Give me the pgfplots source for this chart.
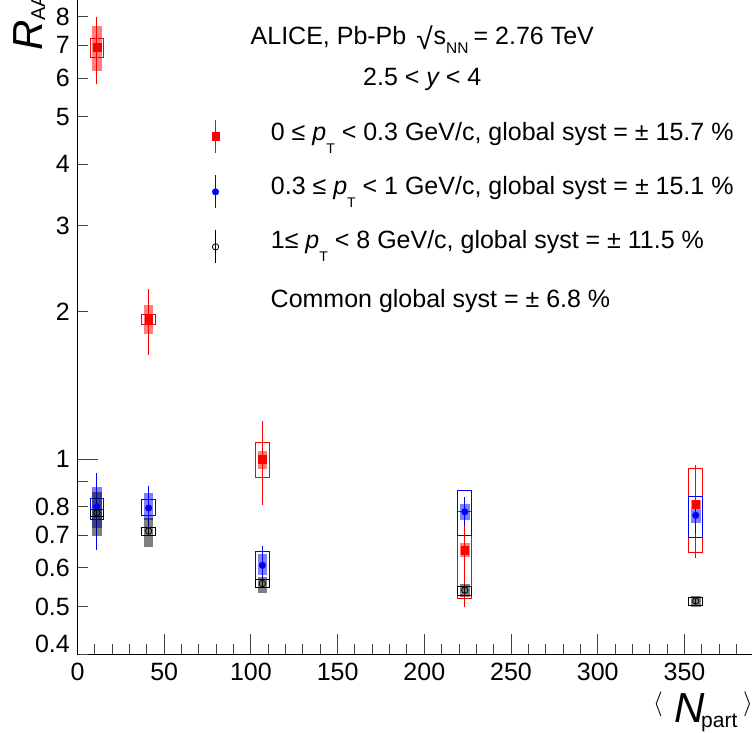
\documentclass[border=0pt]{standalone}
\usepackage{fontspec}
\setmainfont{Liberation Sans}
\usepackage{pgfplots}
\usepackage{pgfplotstable}
\pgfplotsset{compat=1.18}

\newcommand{\fs}[1]{\fontsize{#1}{#1}\selectfont}
\newcommand{\sub}[1]{\raisebox{-12.3pt}{\fs{14}#1}}
\newcommand{\sqrtsnn}{\kern3pt\raisebox{-5pt}{\fs{30}√}\kern1pt s\raisebox{-8.3pt}{\fs{15.5}NN}\kern5pt}

% open box (uncorrelated syst) and hatched box (correlated syst)
\newcommand{\ubox}[4]{%
  \pgfmathsetmacro{\xa}{#2-3.9}\pgfmathsetmacro{\xb}{#2+3.9}%
  \addplot[#1, line width=1pt, forget plot] coordinates {(\xa,#3) (\xb,#3) (\xb,#4) (\xa,#4)} -- cycle;}
\newcommand{\cbox}[4]{%
  \pgfmathsetmacro{\xa}{#2-2.8}\pgfmathsetmacro{\xb}{#2+2.8}%
  \addplot[draw=none, fill=#1, fill opacity=0.5, forget plot] coordinates {(\xa,#3) (\xb,#3) (\xb,#4) (\xa,#4)} -- cycle;}

% x = <Npart>, y = R_AA, slo/shi = statistical error bar ends
\pgfplotstableread{
x     y     slo   shi
11.2  6.93  5.85  8.00
41.0  1.93  1.63  2.23
106.6 1.00  0.805 1.197
223.3 0.652 0.499 0.780
356.5 0.808 0.627 0.972
}\redpts
\pgfplotstableread{
x     y     slo   shi
11.2  0.800 0.652 0.935
41.0  0.795 0.708 0.882
106.6 0.607 0.552 0.664
223.3 0.781 0.730 0.835
356.5 0.768 0.705 0.812
}\bluepts
\pgfplotstableread{
x     y     slo   shi
11.2  0.777 0.765 0.789
41.0  0.713 0.703 0.723
106.6 0.557 0.549 0.565
223.3 0.540 0.533 0.547
356.5 0.513 0.507 0.519
}\blackpts

\pgfplotsset{
  stat/.style={only marks, error bars/y dir=both, error bars/y explicit,
    error bars/error mark=none, error bars/error bar style={line width=1pt, #1}},
}

\begin{document}
\begin{tikzpicture}
\useasboundingbox (0,0) rectangle (752pt,733pt);
\begin{axis}[
  at={(77.5pt,79pt)}, anchor=south west,
  scale only axis, width=685pt, height=662.1pt,
  xmin=0, xmax=395, ymode=log, ymin=0.4, ymax=9,
  axis line style={line width=1pt},
  tick style={black!75, line width=1pt},
  major tick length=20pt, minor tick length=10pt,
  xtick pos=left, ytick pos=left,
  xtick={0,50,...,350},
  minor xtick={10,20,30,40,60,70,80,90,110,120,130,140,160,170,180,190,210,220,230,240,260,270,280,290,310,320,330,340,360,370,380,390},
  ytick={1}, yticklabels={1},
  minor y tick num=0,
  extra y ticks={0.4,0.5,0.6,0.7,0.8,0.9,2,3,4,5,6,7,8},
  extra y tick labels={\raisebox{10pt}[\height][\depth]{0.4},0.5,0.6,0.7,0.8,,2,3,4,5,6,7,8},
  extra y tick style={major tick length=10pt},
  /pgf/number format/assume math mode=true,
  ticklabel style={font=\fs{25}, inner sep=0pt},
  xticklabel style={yshift=-8.7pt},
  yticklabel style={xshift=-7.5pt},
]
% 0 <= pT < 0.3 GeV/c
\cbox{red}{11.2}{6.20}{7.66}
\cbox{red}{41.0}{1.798}{2.063}
\cbox{red}{106.6}{0.955}{1.04}
\cbox{red}{223.3}{0.632}{0.673}
\cbox{red}{356.5}{0.789}{0.827}
\ubox{red}{11.2}{6.61}{7.22}
\ubox{red}{41.0}{1.884}{1.978}
\ubox{red}{106.6}{0.919}{1.082}
\ubox{red}{223.3}{0.519}{0.783}
\ubox{red}{356.5}{0.645}{0.957}
\addplot[red, stat=red, mark=square*, mark size=3.8pt]
  table[x=x, y=y, y error plus expr=\thisrow{shi}-\thisrow{y}, y error minus expr=\thisrow{y}-\thisrow{slo}] {\redpts};
% 0.3 <= pT < 1 GeV/c
\cbox{blue}{11.2}{0.722}{0.878}
\cbox{blue}{41.0}{0.75}{0.851}
\cbox{blue}{106.6}{0.58}{0.64}
\cbox{blue}{223.3}{0.753}{0.809}
\cbox{blue}{356.5}{0.741}{0.789}
\ubox{blue}{11.2}{0.754}{0.832}
\ubox{blue}{41.0}{0.766}{0.826}
\ubox{blue}{106.6}{0.568}{0.647}
\ubox{blue}{223.3}{0.700}{0.864}
\ubox{blue}{356.5}{0.692}{0.840}
\addplot[blue, stat=blue, mark=*, mark size=3.3pt]
  table[x=x, y=y, y error plus expr=\thisrow{shi}-\thisrow{y}, y error minus expr=\thisrow{y}-\thisrow{slo}] {\bluepts};
% 1 <= pT < 8 GeV/c
\cbox{black}{11.2}{0.697}{0.857}
\cbox{black}{41.0}{0.662}{0.758}
\cbox{black}{106.6}{0.532}{0.575}
\cbox{black}{223.3}{0.522}{0.555}
\cbox{black}{356.5}{0.50}{0.525}
\ubox{black}{11.2}{0.763}{0.789}
\ubox{black}{41.0}{0.700}{0.725}
\ubox{black}{106.6}{0.547}{0.568}
\ubox{black}{223.3}{0.527}{0.549}
\ubox{black}{356.5}{0.503}{0.522}
\addplot[black, stat=black, mark=o, mark size=3.2pt, mark options={line width=0.8pt}]
  table[x=x, y=y, y error plus expr=\thisrow{shi}-\thisrow{y}, y error minus expr=\thisrow{y}-\thisrow{slo}] {\blackpts};
% legend symbols
\addplot[red, stat=red, mark=square*, mark size=3.8pt]
  coordinates {(79.6,4.567) += (0,0.363) -= (0,0.345)};
\addplot[blue, stat=blue, mark=*, mark size=3.3pt]
  coordinates {(79.6,3.515) += (0,0.287) -= (0,0.264)};
\addplot[black, stat=black, mark=o, mark size=3.2pt, mark options={line width=0.8pt}]
  coordinates {(79.6,2.714) += (0,0.221) -= (0,0.204)};
\end{axis}
% texts
\node[anchor=base west, inner sep=0pt, font=\fs{25}] at (250.5pt,688pt) {ALICE, Pb-Pb \sqrtsnn{}= 2.76 TeV};
\node[anchor=base west, inner sep=0pt, font=\fs{25}] at (363pt,647.3pt) {2.5 < {\itshape y} < 4};
\node[anchor=base west, inner sep=0pt, font=\fs{25}] at (270.7pt,592pt) {0 ≤ {\itshape p}\sub{T} < 0.3 GeV/c, global syst = ± 15.7 \%};
\node[anchor=base west, inner sep=0pt, font=\fs{25}] at (270.7pt,538pt) {0.3 ≤ {\itshape p}\sub{T} < 1 GeV/c, global syst = ± 15.1 \%};
\node[anchor=base west, inner sep=0pt, font=\fs{25}] at (270.7pt,484pt) {1≤ {\itshape p}\sub{T} < 8 GeV/c, global syst = ± 11.5 \%};
\node[anchor=base west, inner sep=0pt, font=\fs{25}] at (270.5pt,425.5pt) {Common global syst = ± 6.8 \%};
% axis titles
\node[rotate=90, anchor=base west, inner sep=0pt] at (42.7pt,682pt) {{\fs{42}\itshape R}\raisebox{-2.3pt}{\fs{20}AA}};
\node[anchor=base west, inner sep=0pt] at (653pt,10pt) {\raisebox{12.75pt}{\fs{27}$\langle$}};
\node[anchor=base west, inner sep=0pt] at (674pt,10pt) {\fs{42}\itshape N};
\node[anchor=base west, inner sep=0pt] at (701pt,5pt) {\fs{21}part};
\node[anchor=base west, inner sep=0pt] at (743pt,10pt) {\raisebox{12.75pt}{\fs{27}$\rangle$}};
\end{tikzpicture}
\end{document}
